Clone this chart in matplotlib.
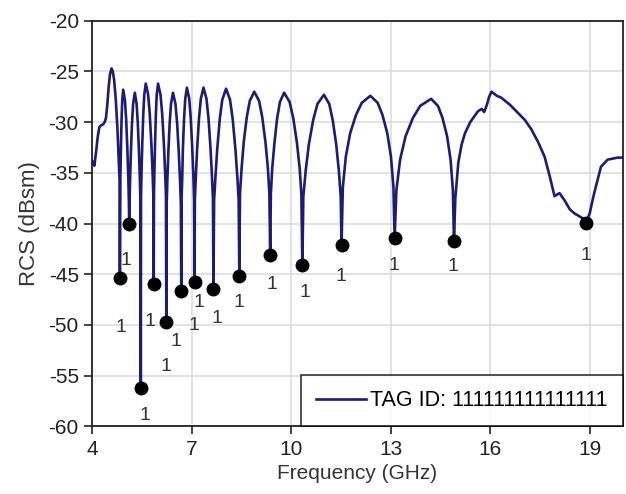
import matplotlib.pyplot as plt

plt.rcParams['font.family'] = ['Liberation Sans', 'DejaVu Sans']
plt.rcParams['axes.unicode_minus'] = False

# RCS curve (GHz, dBsm), one row per lobe
freq = [4.00, 4.04, 4.07, 4.12, 4.17, 4.22, 4.28, 4.34, 4.38, 4.42, 4.46, 4.50, 4.54, 4.59,
        4.625, 4.665, 4.715, 4.765, 4.80, 4.83, 4.84,
        4.855, 4.87, 4.89, 4.91, 4.94, 4.994, 5.03, 5.066, 5.093, 5.111, 5.12,
        5.146, 5.171, 5.205, 5.239, 5.29, 5.344, 5.38, 5.416, 5.443, 5.461, 5.47,
        5.477, 5.492, 5.515, 5.545, 5.575, 5.62, 5.692, 5.74, 5.788, 5.824, 5.848, 5.86,
        5.867, 5.88, 5.90, 5.925, 5.95, 5.99, 6.065, 6.115, 6.165, 6.203, 6.228, 6.24,
        6.25, 6.27, 6.30, 6.34, 6.38, 6.44, 6.515, 6.565, 6.615, 6.653, 6.678, 6.69,
        6.70, 6.72, 6.74, 6.775, 6.81, 6.86, 6.93, 6.975, 7.02, 7.055, 7.078, 7.09,
        7.10, 7.13, 7.17, 7.225, 7.28, 7.36, 7.45, 7.51, 7.57, 7.615, 7.645, 7.66,
        7.68, 7.72, 7.775, 7.85, 7.925, 8.04, 8.16, 8.24, 8.32, 8.38, 8.42, 8.44,
        8.46, 8.51, 8.575, 8.665, 8.755, 8.89, 9.035, 9.13, 9.225, 9.30, 9.345, 9.37,
        9.39, 9.43, 9.50, 9.58, 9.665, 9.79, 9.955, 10.065, 10.175, 10.26, 10.31, 10.34,
        10.37, 10.44, 10.535, 10.665, 10.795, 10.99, 11.15, 11.255, 11.36, 11.44, 11.495, 11.52,
        11.56, 11.65, 11.78, 11.955, 12.13, 12.39, 12.61, 12.755, 12.90, 13.01, 13.085, 13.12,
        13.175, 13.285, 13.45, 13.67, 13.89, 14.22, 14.427, 14.565, 14.703, 14.807, 14.876, 14.91,
        14.95, 15.04, 15.14, 15.24, 15.40, 15.55, 15.64, 15.75, 15.82, 15.90, 15.97, 16.04,
        16.20, 16.34, 16.60, 16.84, 17.05, 17.24, 17.45, 17.64, 17.80, 17.94, 18.09, 18.24,
        18.40, 18.54, 18.70, 18.80, 18.89, 19.00, 19.10, 19.19, 19.34, 19.54, 19.84, 20.00]
rcs = [-33.8, -34.0, -34.3, -33.0, -31.5, -30.5, -30.3, -30.2, -30.0, -29.6, -28.3, -26.6, -25.3, -24.7,
       -25.0, -25.8, -27.7, -30.6, -33.4, -35.7, -45.4,
       -35.5, -32.7, -29.8, -27.9, -26.8, -27.9, -29.8, -32.7, -35.5, -37.8, -40.0,
       -35.8, -33.0, -30.1, -28.2, -27.1, -28.2, -30.1, -33.0, -35.8, -38.1, -56.2,
       -37.2, -34.9, -32.1, -29.2, -27.3, -26.2, -27.3, -29.2, -32.1, -34.9, -37.2, -46.0,
       -37.2, -34.9, -32.1, -29.2, -27.3, -26.2, -27.3, -29.2, -32.1, -34.9, -37.2, -49.7,
       -38.1, -35.8, -33.0, -30.1, -28.2, -27.1, -28.2, -30.1, -33.0, -35.8, -38.1, -46.7,
       -37.6, -35.3, -32.5, -29.6, -27.7, -26.6, -27.7, -29.6, -32.5, -35.3, -37.6, -45.8,
       -37.6, -35.3, -32.5, -29.6, -27.7, -26.6, -27.7, -29.6, -32.5, -35.3, -37.6, -46.5,
       -37.7, -35.4, -32.6, -29.7, -27.8, -26.7, -27.8, -29.7, -32.6, -35.4, -37.7, -45.2,
       -37.0, -34.5, -31.9, -29.5, -27.9, -27.0, -27.9, -29.5, -31.9, -34.5, -37.0, -43.1,
       -37.1, -34.6, -32.0, -29.6, -28.0, -27.1, -28.0, -29.6, -32.0, -34.6, -37.1, -44.1,
       -37.3, -34.8, -32.2, -29.8, -28.2, -27.3, -28.2, -29.8, -32.2, -34.8, -37.3, -42.1,
       -36.4, -33.4, -31.1, -29.3, -28.1, -27.4, -28.1, -29.3, -31.1, -33.4, -36.4, -41.4,
       -36.7, -33.7, -31.4, -29.6, -28.4, -27.7, -28.4, -29.6, -31.4, -33.7, -36.7, -41.7,
       -37.5, -34.0, -32.2, -31.1, -30.0, -29.3, -28.9, -28.7, -29.0, -28.3, -27.5, -27.0,
       -27.4, -27.6, -28.3, -29.1, -29.8, -30.7, -32.0, -33.4, -35.4, -37.3, -37.0, -37.7,
       -38.6, -39.0, -39.3, -39.5, -39.9, -39.0, -37.5, -36.3, -34.4, -33.7, -33.5, -33.5]

# resonance dips (markers)
dip_freq = [4.84, 5.12, 5.47, 5.86, 6.24, 6.69, 7.09, 7.66, 8.44, 9.37, 10.34, 11.52, 13.12, 14.91, 18.89]
dip_rcs = [-45.4, -40.0, -56.2, -46.0, -49.7, -46.7, -45.8, -46.5, -45.2, -43.1, -44.1, -42.1, -41.4, -41.7, -39.9]

# "1" bit labels
lab_freq = [4.86, 5.02, 5.59, 5.76, 6.24, 6.54, 7.06, 7.22, 7.76, 8.42, 9.42, 10.42, 11.49, 13.09, 14.89, 18.89]
lab_rcs = [-50.3, -43.6, -58.9, -49.7, -54.1, -51.6, -50.1, -47.8, -49.4, -47.8, -46.0, -46.8, -45.2, -44.1, -44.2, -43.2]

fig = plt.figure(figsize=(6.26, 4.94), dpi=100)
ax = fig.add_axes([0.147, 0.137, 0.848, 0.821])

ax.plot(freq, rcs, color='#1c1c74', lw=1.9, label='TAG ID: 111111111111111', zorder=3)
ax.plot(dip_freq, dip_rcs, 'o', color='black', ms=9, zorder=4)
for fx, fy in zip(lab_freq, lab_rcs):
    ax.text(fx, fy, '1', fontsize=14, color='#333333', ha='center', va='center')

ax.set_xlim(4, 20)
ax.set_ylim(-60, -20)
ax.set_xticks([4, 7, 10, 13, 16, 19])
ax.set_yticks(range(-60, -19, 5))
ax.grid(True, color='#dddddd', lw=1.2)
ax.set_axisbelow(True)
ax.tick_params(labelsize=15, length=6, width=1.2, colors='#222222')
for s in ax.spines.values():
    s.set_linewidth(1.3)
    s.set_color('#222222')

ax.set_xlabel('Frequency (GHz)', fontsize=15, color='#333333', labelpad=4)
ax.set_ylabel('RCS (dBsm)', fontsize=16, color='#333333', labelpad=6)

leg = ax.legend(loc='lower right', fontsize=15.5, frameon=True, fancybox=False,
                edgecolor='black', borderaxespad=0, handlelength=2.3,
                handletextpad=0.2, borderpad=0.7)
leg.get_frame().set_linewidth(1.2)

fig.savefig('out.png', dpi=100)
